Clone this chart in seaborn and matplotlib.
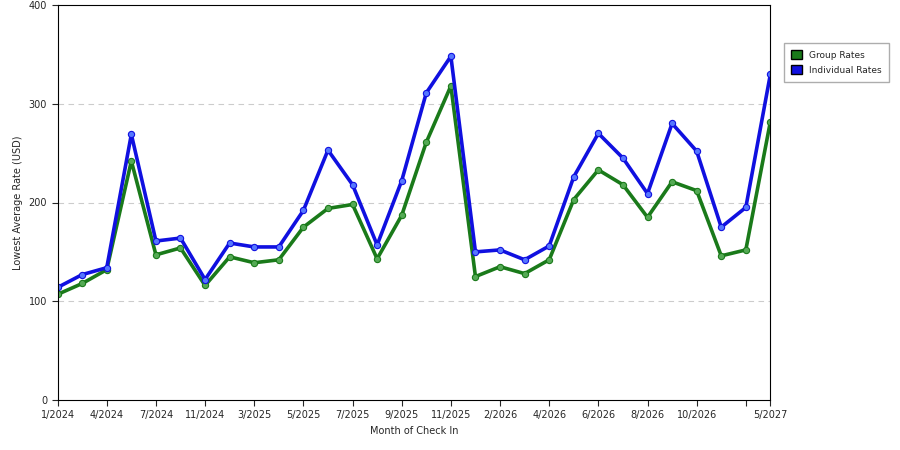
import pandas as pd
import matplotlib
matplotlib.use("Agg")
import matplotlib.pyplot as plt
import seaborn as sns
from matplotlib.patches import Patch

tick_labels = ["1/2024", "", "4/2024", "", "7/2024", "", "11/2024", "", "3/2025", "",
               "5/2025", "", "7/2025", "", "9/2025", "", "11/2025", "", "2/2026", "",
               "4/2026", "", "6/2026", "", "8/2026", "", "10/2026", "", "", "5/2027"]
individual = [114, 127, 134, 269, 161, 164, 122, 159, 155, 155, 192, 253, 218, 157, 222,
              311, 348, 150, 152, 142, 156, 226, 270, 245, 209, 280, 252, 175, 195, 330]
group = [107, 118, 132, 242, 147, 154, 116, 145, 139, 142, 175, 194, 198, 143, 187,
         261, 318, 125, 135, 128, 142, 203, 233, 218, 185, 221, 212, 146, 152, 282]

sns.set_style("white")
plt.rcParams["font.family"] = ["DejaVu Sans"]

idx = list(range(len(group)))
df = pd.DataFrame({"idx": idx * 2,
                   "rate": group + individual,
                   "series": ["Group Rates"] * len(group) + ["Individual Rates"] * len(individual)})

fig = plt.figure(figsize=(9, 4.5), dpi=100)
ax = fig.add_axes([0.064, 0.111, 0.792, 0.878])
palette = {"Group Rates": "#1a7a1a", "Individual Rates": "#1010e0"}
sns.lineplot(data=df, x="idx", y="rate", hue="series", palette=palette, lw=2.6,
             marker="o", markersize=4.5, markeredgewidth=0.8, legend=False, ax=ax)
for l, mc in zip(ax.lines, ["#55aa55", "#5577ff"]):
    l.set_markerfacecolor(mc)
    l.set_markeredgecolor(l.get_color())

# ticks only at labelled months (plus the unlabelled one before the end)
tick_pos = [i for i, t in enumerate(tick_labels) if t] + [28]
tick_pos.sort()
ax.set_xlim(0, len(idx) - 1)
ax.set_ylim(0, 400)
ax.set_xticks(tick_pos)
ax.set_xticklabels([tick_labels[i] for i in tick_pos], fontsize=7)
ax.set_yticks([0, 100, 200, 300, 400])
ax.tick_params(axis="y", labelsize=7, length=4, left=True)
ax.tick_params(axis="x", length=4, bottom=True)
for y in [100, 200, 300]:
    ax.axhline(y, color="#cccccc", ls=(0, (5, 4)), lw=0.8, zorder=0)
for s in ax.spines.values():
    s.set_color("black")
    s.set_linewidth(0.8)
ax.set_xlabel("Month of Check In", fontsize=7)
ax.set_ylabel("Lowest Average Rate (USD)", fontsize=7)

handles = [Patch(facecolor="#1a7a1a", edgecolor="black", label="Group Rates"),
           Patch(facecolor="#1010e0", edgecolor="black", label="Individual Rates")]
fig.legend(handles=handles, loc="upper left", bbox_to_anchor=(0.866, 0.915), fontsize=6.5,
           frameon=True, fancybox=False, edgecolor="#999999", handlelength=1.2,
           handleheight=1.2, borderpad=0.8, labelspacing=0.6)

fig.savefig("out.png")
